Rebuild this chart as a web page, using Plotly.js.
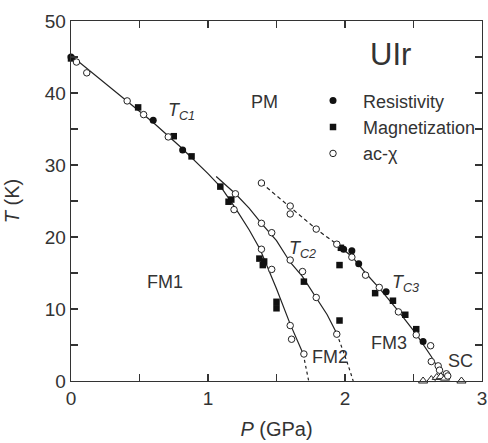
<!DOCTYPE html>
<html>
<head>
<meta charset="utf-8">
<script src="https://cdn.plot.ly/plotly-3.0.1.min.js"></script>
<style>html,body{margin:0;padding:0;background:#fff;}#chart{width:488px;height:443px;}</style>
</head>
<body>
<div id="chart"></div>
<script>
// Resistivity (filled circles)
var resP = [0.0, 0.60, 0.815, 1.99, 2.05, 2.10, 2.30, 2.57];
var resT = [45.0, 36.2, 32.1, 18.3, 18.1, 16.3, 12.4, 5.5];
// Magnetization (filled squares)
var magP = [0.0, 0.49, 0.75, 0.88, 1.09, 1.15, 1.17, 1.375, 1.41, 1.40, 1.50, 1.50, 1.70, 1.96, 1.96, 1.97, 2.22, 2.35, 2.44, 2.52];
var magT = [44.8, 38.0, 34.0, 31.2, 27.0, 24.9, 25.2, 17.0, 16.6, 16.1, 11.0, 10.1, 13.8, 16.1, 8.4, 18.5, 12.2, 11.15, 9.2, 7.2];
// ac-chi (open circles)
var acP = [0.04, 0.115, 0.41, 0.53, 0.71, 1.20, 1.19, 1.39, 1.465, 1.39, 1.465, 1.60, 1.69, 1.79, 1.94, 1.60, 1.61, 1.70,
           1.39, 1.60, 1.60, 1.79, 1.94, 2.05, 2.15, 2.25, 2.39, 2.52, 2.625, 2.63, 2.68, 2.69, 2.74, 2.75];
var acT = [44.3, 42.8, 38.9, 37.0, 33.9, 26.0, 23.8, 21.9, 20.6, 18.3, 15.5, 16.8, 15.2, 11.6, 6.5, 7.7, 5.8, 3.75,
           27.5, 24.3, 23.2, 21.1, 19.0, 17.2, 14.7, 13.0, 9.6, 6.4, 4.9, 2.7, 2.1, 1.5, 1.0, 0.7];
// Superconducting transition (open triangles)
var scP = [2.57, 2.63, 2.67, 2.70, 2.73, 2.85];
var scT = [0.0, 0.2, 0.5, 0.6, 0.4, 0.0];

// Phase boundary guide lines
var tc1P = [0, 0.2, 0.4, 0.6, 0.8, 1.0, 1.1, 1.2, 1.3, 1.38, 1.5, 1.6, 1.695];
var tc1T = [45.2, 42.1, 39.0, 35.9, 32.5, 28.8, 26.8, 24.0, 21.0, 18.3, 12.8, 7.9, 3.75];
var tc1dP = [1.695, 1.72, 1.735];
var tc1dT = [3.75, 1.5, 0];
var tc2P = [1.06, 1.2, 1.3, 1.39, 1.5, 1.6, 1.69, 1.79, 1.87, 1.94];
var tc2T = [28.4, 26.0, 24.0, 21.9, 19.5, 16.5, 14.5, 11.6, 9.2, 6.6];
var tc2dP = [1.94, 1.98, 2.01, 2.04, 2.06];
var tc2dT = [6.6, 4.6, 2.9, 1.2, 0];
var tc3dP = [1.39, 1.6, 1.79, 1.94];
var tc3dT = [27.5, 24.1, 21.1, 19.0];
var tc3P = [1.94, 2.05, 2.15, 2.25, 2.39, 2.52, 2.63, 2.71];
var tc3T = [19.0, 17.3, 15.0, 12.9, 9.7, 6.5, 3.4, 0.8];

var ink = '#222';
function line(x, y, dash) {
  return {x: x, y: y, mode: 'lines', type: 'scatter', showlegend: false, hoverinfo: 'skip',
          line: {color: ink, width: 1.2, dash: dash || 'solid'}};
}
var traces = [
  line(tc1P, tc1T), line(tc1dP, tc1dT, '3px,3px'),
  line(tc2P, tc2T), line(tc2dP, tc2dT, '3px,3px'),
  line(tc3dP, tc3dT, '4px,3px'), line(tc3P, tc3T),
  {x: scP, y: scT, mode: 'markers', type: 'scatter', showlegend: false, cliponaxis: false,
   marker: {symbol: 'triangle-up', size: 8, color: '#fff', line: {color: ink, width: 1}}},
  {x: resP, y: resT, name: 'Resistivity', mode: 'markers', type: 'scatter', cliponaxis: false,
   marker: {symbol: 'circle', size: 7, color: '#111'}},
  {x: magP, y: magT, name: 'Magnetization', mode: 'markers', type: 'scatter', cliponaxis: false,
   marker: {symbol: 'square', size: 6.5, color: '#111'}},
  {x: acP, y: acT, name: 'ac-χ', mode: 'markers', type: 'scatter', cliponaxis: false,
   marker: {symbol: 'circle', size: 6.5, color: '#fff', line: {color: ink, width: 1}}}
];

var txt = '#333';
function ann(x, y, text, size) {
  return {x: x, y: y, xref: 'x', yref: 'y', text: text, showarrow: false,
          font: {family: 'Liberation Sans, Arial, sans-serif', size: size || 18, color: txt}};
}
var layout = {
  width: 488, height: 443,
  margin: {l: 71, r: 6, t: 21, b: 62, autoexpand: false},
  paper_bgcolor: '#fff', plot_bgcolor: '#fff',
  font: {family: 'Liberation Sans, Arial, sans-serif', color: txt, size: 19},
  showlegend: true,
  legend: {x: 0.5645, y: 0.8294, xanchor: 'left', yanchor: 'top', bgcolor: 'rgba(0,0,0,0)',
           font: {size: 18, color: txt}, itemwidth: 50, tracegroupgap: 0},
  xaxis: {range: [0, 3], tickmode: 'linear', tick0: 0, dtick: 1,
          ticks: 'inside', ticklen: 7, tickcolor: txt, tickwidth: 1.2, mirror: 'ticks',
          minor: {dtick: 0.5, ticks: 'inside', ticklen: 7, tickcolor: txt, tickwidth: 1.2},
          showline: true, linecolor: txt, linewidth: 1.3, showgrid: false, zeroline: false,
          tickfont: {size: 19}, title: {text: '<i>P</i> (GPa)', font: {size: 20}, standoff: 14}},
  yaxis: {range: [0, 50], tickmode: 'linear', tick0: 0, dtick: 10,
          ticks: 'inside', ticklen: 7, tickcolor: txt, tickwidth: 1.2, mirror: 'ticks',
          minor: {dtick: 5, ticks: 'inside', ticklen: 7, tickcolor: txt, tickwidth: 1.2},
          showline: true, linecolor: txt, linewidth: 1.3, showgrid: false, zeroline: false,
          tickfont: {size: 19}, title: {text: '<i>T</i> (K)', font: {size: 20}, standoff: 19}},
  annotations: [
    ann(2.33, 45.4, 'UIr', 31),
    ann(1.41, 38.75, 'PM'),
    ann(0.81, 37.4, '<i>T</i><sub><i>C1</i></sub>'),
    ann(1.69, 18.2, '<i>T</i><sub><i>C2</i></sub>'),
    ann(2.44, 13.6, '<i>T</i><sub><i>C3</i></sub>'),
    ann(0.686, 13.75, 'FM1'),
    ann(1.89, 3.3, 'FM2'),
    ann(2.32, 5.3, 'FM3'),
    ann(2.84, 2.8, 'SC')
  ]
};
Plotly.newPlot('chart', traces, layout, {displayModeBar: false, staticPlot: true});
</script>
</body>
</html>
